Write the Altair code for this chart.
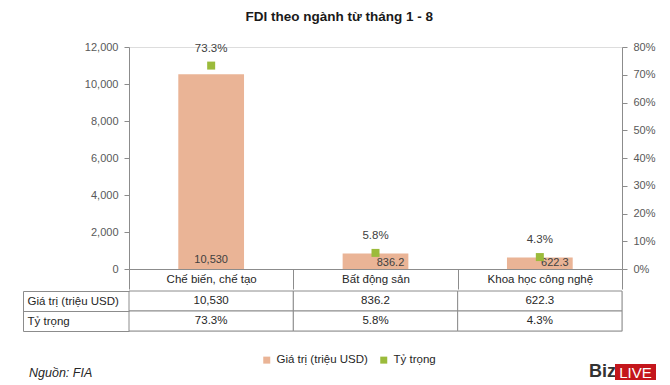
import altair as alt
import pandas as pd

categories = ["Chế biến, chế tạo", "Bất động sản", "Khoa học công nghệ"]
values = [10530, 836.2, 622.3]
shares = [73.3, 5.8, 4.3]
row_names = ["Giá trị (triệu USD)", "Tỷ trọng"]
left_ticks = [0, 2000, 4000, 6000, 8000, 10000, 12000]
right_ticks = [0, 10, 20, 30, 40, 50, 60, 70, 80]

value_labels = [f"{v:,}" for v in values]
share_labels = [f"{s}%" for s in shares]

df = pd.DataFrame({"cat": categories, "value": values, "share": shares,
                   "vlabel": value_labels, "slabel": share_labels})
table_df = pd.DataFrame({
    "cat": categories * 2,
    "row": [row_names[0]] * 3 + [row_names[1]] * 3,
    "text": value_labels + share_labels,
})

FONT = "Liberation Sans"
GRID = "#8c8c8c"
BAR = "#EAB496"
SQ = "#9BBB3B"
TXT = "#262626"

W = 493

xscale = alt.Scale(domain=categories, paddingInner=0, paddingOuter=0)
x_main = alt.X("cat:N", sort=categories, scale=xscale, title=None,
               axis=alt.Axis(orient="bottom", domainColor=GRID, tickColor=GRID,
                             tickBand="extent", tickSize=20, labelPadding=-10,
                             labelBaseline="middle", labelAngle=0, labelFontSize=11.5,
                             labelColor=TXT, labelFont=FONT))

color_scale = alt.Scale(domain=row_names, range=[BAR, SQ])
legend = alt.Legend(orient="none", legendX=132, legendY=307, direction="horizontal",
                    title=None, symbolType="square", symbolSize=49, labelFontSize=11.5,
                    labelFont=FONT, labelColor=TXT, columnPadding=10, symbolStrokeWidth=0)
color_enc = alt.Color("series:N", scale=color_scale, legend=legend)

base = alt.Chart(df)
yscale_left = alt.Scale(domain=[0, 12000], nice=False)
left_axis = alt.Axis(orient="left", values=left_ticks, format=",.0f", grid=False,
                     domainColor=GRID, tickColor=GRID, tickSize=5, labelPadding=6,
                     labelFontSize=11, labelColor="#595959", labelFont=FONT)
y_left = alt.Y("value:Q", scale=yscale_left, title=None, axis=left_axis)
bars = base.transform_calculate(series=f"'{row_names[0]}'").mark_bar(
    width=alt.RelativeBandSize(band=0.4)).encode(
    x=x_main, y=y_left, color=color_enc,
)
y_zero = alt.Y("zero:Q", scale=yscale_left, title=None, axis=left_axis)
bar_lab1 = base.transform_filter(alt.datum.cat == categories[0]).transform_calculate(
    zero="0").mark_text(dy=-9, fontSize=11, font=FONT, color="#404040").encode(
    x=x_main, y=y_zero, text="vlabel:N")
bar_lab2 = base.transform_filter(alt.datum.cat != categories[0]).transform_calculate(
    zero="0").mark_text(dy=-6, dx=15, fontSize=11, font=FONT, color="#404040").encode(
    x=x_main, y=y_zero, text="vlabel:N")
left = alt.layer(bars, bar_lab1, bar_lab2)

right_axis = alt.Axis(orient="right", values=right_ticks, labelExpr="datum.value + '%'",
                      grid=False, domainColor=GRID, tickColor=GRID, tickSize=5,
                      labelPadding=6, labelFontSize=11, labelColor="#595959",
                      labelFont=FONT)
y_right = alt.Y("share:Q", scale=alt.Scale(domain=[0, 80], nice=False), title=None,
                axis=right_axis)
squares = base.transform_calculate(series=f"'{row_names[1]}'").mark_square(
    size=64, opacity=1).encode(
    x=x_main, y=y_right, color=color_enc,
)
sq_lab = base.mark_text(dy=-17, fontSize=11.5, font=FONT, color="#404040").encode(
    x=x_main, y=y_right, text="slabel:N")
right = alt.layer(squares, sq_lab)

main = alt.layer(left, right).resolve_scale(y="independent").properties(width=W, height=222)

# data table below the chart
x_tab = alt.X("cat:N", sort=categories, scale=xscale, axis=None)
yscale_t = alt.Scale(domain=row_names, paddingInner=0, paddingOuter=0)
t_base = alt.Chart(table_df)
cells = t_base.mark_rect(fill="white", stroke=GRID, strokeWidth=1).encode(
    x=x_tab,
    y=alt.Y("row:N", sort=row_names, scale=yscale_t, title=None,
            axis=alt.Axis(orient="left", domain=False, ticks=True, tickBand="extent",
                          tickSize=106, tickColor=GRID, labelAlign="left", labelPadding=-4,
                          labelBaseline="middle", labelFontSize=11.5, labelColor=TXT,
                          labelFont=FONT)),
)
cell_txt = t_base.mark_text(fontSize=11.5, font=FONT, color=TXT).encode(
    x=x_tab,
    y=alt.Y("row:N", sort=row_names, scale=yscale_t, title=None,
            axis=alt.Axis(orient="left", offset=106, domain=True, domainColor=GRID,
                          labels=False, ticks=False)),
    text="text:N",
)

foot = pd.DataFrame({"t": ["Nguồn: FIA"]})
source = alt.Chart(foot).mark_text(align="left", baseline="middle", fontSize=12.5, font=FONT,
                                   fontStyle="italic", color="#262626").encode(
    x=alt.value(-100), y=alt.value(82), text="t:N")
biz = alt.Chart(pd.DataFrame({"t": ["Biz"]})).mark_text(
    align="left", baseline="middle", fontSize=18, font=FONT, fontWeight="bold",
    color="#333333").encode(x=alt.value(460), y=alt.value(81), text="t:N")
live_box = alt.Chart(pd.DataFrame({"t": ["LIVE"]})).mark_rect(color="#C4161C").encode(
    x=alt.value(486), x2=alt.value(527), y=alt.value(73), y2=alt.value(89))
live = alt.Chart(pd.DataFrame({"t": ["LIVE"]})).mark_text(
    align="center", baseline="middle", fontSize=15, font=FONT,
    color="white").encode(x=alt.value(506.5), y=alt.value(81.5), text="t:N")

table = alt.layer(cells, cell_txt, source, biz, live_box, live).resolve_axis(
    y="independent").properties(width=W, height=40)

chart = alt.vconcat(main, table, spacing=-6).properties(
    title=alt.TitleParams("FDI theo ngành từ tháng 1 - 8", anchor="middle",
                          font=FONT, fontSize=13.5, fontWeight="bold",
                          color="#1a1a1a", offset=17),
    padding={"left": 14, "top": 2, "right": 5, "bottom": 0},
).configure_view(stroke=None).configure(font=FONT)

chart.save("out.html", embed_options={"renderer": "svg", "actions": False})
